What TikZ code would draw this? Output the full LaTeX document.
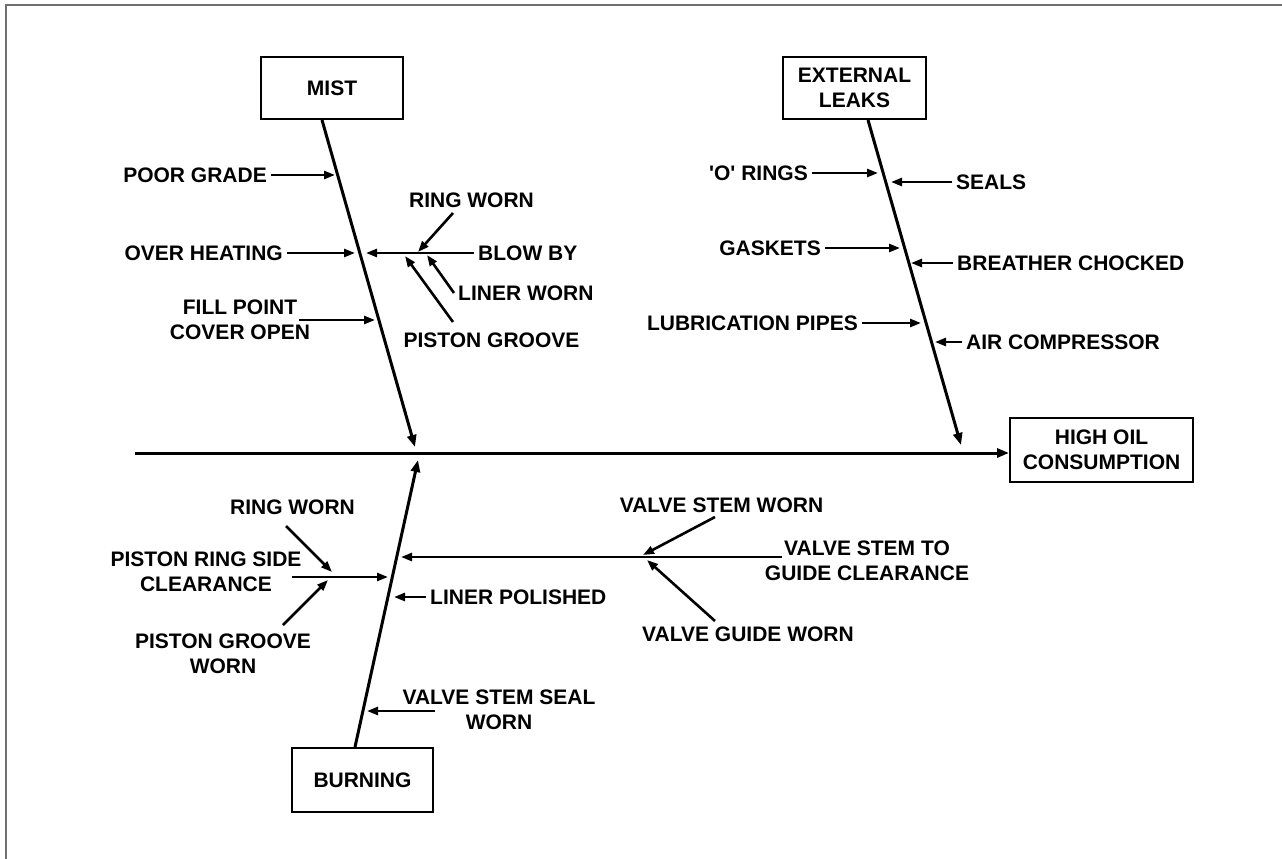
\documentclass[tikz,border=0pt]{standalone}
\usepackage{fontspec}
\setmainfont{Liberation Sans}
\usetikzlibrary{arrows.meta}
\begin{document}
\begin{tikzpicture}[x=1pt,y=-1pt,
  txt/.style={font=\bfseries\fontsize{21}{25}\selectfont},
  lab/.style={txt, inner sep=4pt, align=center},
  box/.style={txt, draw, line width=2pt, align=center, inner sep=2pt},
  bone/.style={line width=3pt, -{Triangle[length=12pt,width=9pt]}},
  arr/.style={line width=2.6pt, -{Triangle[length=11pt,width=8pt]}},
  frame/.style={draw=black!56, line width=2pt},
]
\useasboundingbox (0,0) rectangle (1282,859);
\draw[frame] (6,859) -- (6,5) -- (1282,5);

% boxes
\node[box, minimum width=142pt, minimum height=62pt] (mist) at (332,88) {MIST};
\node[box, minimum width=143pt, minimum height=62pt] (ext) at (854.5,88) {EXTERNAL\\LEAKS};
\node[box, minimum width=183pt, minimum height=64pt] (hoc) at (1101.5,450) {HIGH OIL\\CONSUMPTION};
\node[box, minimum width=141pt, minimum height=64pt] (burn) at (362.5,780) {BURNING};

% spine
\coordinate (spL) at (135,453);
\draw[bone] (spL) -- (spL -| hoc.west);

% bones
\coordinate (mistT) at (415,447);
\coordinate (extT) at (961,445);
\coordinate (burnT) at (418,460);
\draw[bone] ([xshift=-10pt]mist.south) -- (mistT);
\draw[bone] ([xshift=13.5pt]ext.south) -- (extT);
\draw[bone] ([xshift=-7.5pt]burn.north) -- (burnT);

% MIST causes
\node[lab, anchor=east] (pg) at (271,175) {POOR GRADE};
\coordinate (pgT) at (335,175);
\draw[arr] (pg.east) -- (pgT);

\node[lab, anchor=east] (oh) at (287,253) {OVER HEATING};
\coordinate (ohT) at (355,253);
\draw[arr] (oh.east) -- (ohT);

\node[lab] (fp) at (240,320) {FILL POINT\\COVER OPEN};
\coordinate (fpS) at (299,320);
\coordinate (fpT) at (375,320);
\draw[arr] (fpS) -- (fpT);

\node[lab, anchor=west] (bb) at (474,253) {BLOW BY};
\coordinate (bbT) at (366,253);
\draw[arr] (bb.west) -- (bbT);

\node[lab] (rw1) at (471.5,200) {RING WORN};
\coordinate (rw1S) at (453,213);
\coordinate (rw1T) at (418,252);
\draw[arr] (rw1S) -- (rw1T);

\node[lab, anchor=west] (lw) at (454,293) {LINER WORN};
\coordinate (lwT) at (427,255);
\draw[arr] (lw.west) -- (lwT);

\node[lab] (pgr) at (491.5,340) {PISTON GROOVE};
\coordinate (pgrS) at (453,322);
\coordinate (pgrT) at (405,256);
\draw[arr] (pgrS) -- (pgrT);

% EXTERNAL LEAKS causes
\node[lab, anchor=east] (or) at (812,173) {\textquotesingle O\textquotesingle{} RINGS};
\coordinate (orT) at (878,173);
\draw[arr] (or.east) -- (orT);

\node[lab, anchor=west] (se) at (952,182) {SEALS};
\coordinate (seT) at (891,182);
\draw[arr] (se.west) -- (seT);

\node[lab, anchor=east] (ga) at (825,248) {GASKETS};
\coordinate (gaT) at (900,248);
\draw[arr] (ga.east) -- (gaT);

\node[lab, anchor=west] (br) at (953,263) {BREATHER CHOCKED};
\coordinate (brT) at (911,263);
\draw[arr] (br.west) -- (brT);

\node[lab, anchor=east] (lp) at (862,323) {LUBRICATION PIPES};
\coordinate (lpT) at (921,323);
\draw[arr] (lp.east) -- (lpT);

\node[lab, anchor=west] (ac) at (962,342) {AIR COMPRESSOR};
\coordinate (acT) at (935,342);
\draw[arr] (ac.west) -- (acT);

% BURNING causes
\node[lab] (rw2) at (292.5,507) {RING WORN};
\coordinate (rw2S) at (286,526);
\coordinate (rw2T) at (332,572);
\draw[arr] (rw2S) -- (rw2T);

\node[lab] (prs) at (206,572) {PISTON RING SIDE\\CLEARANCE};
\coordinate (prsS) at (292,577);
\coordinate (prsT) at (388,577);
\draw[arr] (prsS) -- (prsT);

\node[lab] (pgw) at (223,654) {PISTON GROOVE\\WORN};
\coordinate (pgwS) at (283,625);
\coordinate (pgwT) at (328,580);
\draw[arr] (pgwS) -- (pgwT);

\node[lab, anchor=west] (lpo) at (426,597) {LINER POLISHED};
\coordinate (lpoT) at (394,597);
\draw[arr] (lpo.west) -- (lpoT);

\node[lab] (vsg) at (867,561) {VALVE STEM TO\\GUIDE CLEARANCE};
\coordinate (vsgS) at (782,557);
\coordinate (vsgT) at (401,557);
\draw[arr] (vsgS) -- (vsgT);

\node[lab] (vsw) at (721.5,505) {VALVE STEM WORN};
\coordinate (vswS) at (715,517);
\coordinate (vswT) at (643,555);
\draw[arr] (vswS) -- (vswT);

\node[lab] (vgw) at (748,634) {VALVE GUIDE WORN};
\coordinate (vgwS) at (715,621);
\coordinate (vgwT) at (647,560);
\draw[arr] (vgwS) -- (vgwT);

\node[lab] (vss) at (499,710) {VALVE STEM SEAL\\WORN};
\coordinate (vssS) at (435,711);
\coordinate (vssT) at (367,711);
\draw[arr] (vssS) -- (vssT);
\end{tikzpicture}
\end{document}
